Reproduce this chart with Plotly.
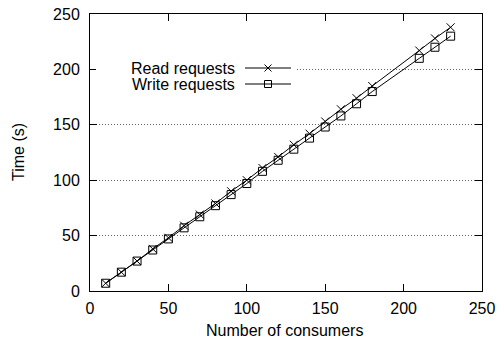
import plotly.graph_objects as go

consumers = [10, 20, 30, 40, 50, 60, 70, 80, 90, 100, 110, 120, 130, 140, 150, 160, 170, 180, 210, 220, 230]
read_times = [7, 17, 27, 38, 48, 59, 69, 79, 90, 100, 111, 121, 132, 142, 153, 164, 174, 185, 217, 228, 238]
write_times = [7, 17, 27, 37, 47, 57, 67, 77, 87, 97, 108, 118, 128, 138, 148, 158, 169, 180, 210, 220, 230]
series_names = ["Read requests", "Write requests"]
x_ticks = [0, 50, 100, 150, 200, 250]
y_ticks = [0, 50, 100, 150, 200, 250]
x_title = "Number of consumers"
y_title = "Time (s)"

FONT = "Liberation Sans, Arial, Helvetica, sans-serif"
FS = 16
OFF = 8  # default page body margin

fig = go.Figure()
fig.add_trace(go.Scatter(x=consumers, y=read_times, mode="lines+markers", name=series_names[0],
                         line=dict(color="black", width=1),
                         marker=dict(symbol="x-thin-open", size=8, line=dict(color="black", width=1), color="black")))
fig.add_trace(go.Scatter(x=consumers, y=write_times, mode="lines+markers", name=series_names[1],
                         line=dict(color="black", width=1),
                         marker=dict(symbol="square-open", size=8, line=dict(color="black", width=1), color="black")))

W, H = 504 - OFF, 341 - OFF
L, R, T, B = 90 - OFF, 22, 14 - OFF, 50
pw, ph = W - L - R, H - T - B

def px(xp):  # page x -> paper
    return (xp - OFF - L) / pw

def py(yp):  # page y -> paper
    return (H - B - (yp - OFF)) / ph

shapes = []
shapes.append(dict(type="rect", xref="paper", yref="paper", x0=px(96), x1=px(296), y0=py(92), y1=py(59),
                   fillcolor="white", line=dict(width=0), layer="above"))
annotations = []
for i, (name, yc) in enumerate(zip(series_names, [68, 84])):
    annotations.append(dict(text=name, xref="paper", yref="paper", x=px(237), y=py(yc),
                            xanchor="right", yanchor="middle", showarrow=False,
                            font=dict(family=FONT, size=FS, color="black")))
    shapes.append(dict(type="line", xref="paper", yref="paper", x0=px(245), x1=px(291), y0=py(yc), y1=py(yc),
                       line=dict(color="black", width=1), layer="above"))
    cx, s = 268, 3.5
    if i == 0:
        shapes.append(dict(type="line", xref="paper", yref="paper", x0=px(cx - s), x1=px(cx + s),
                           y0=py(yc - s), y1=py(yc + s), line=dict(color="black", width=1), layer="above"))
        shapes.append(dict(type="line", xref="paper", yref="paper", x0=px(cx - s), x1=px(cx + s),
                           y0=py(yc + s), y1=py(yc - s), line=dict(color="black", width=1), layer="above"))
    else:
        shapes.append(dict(type="rect", xref="paper", yref="paper", x0=px(cx - s), x1=px(cx + s),
                           y0=py(yc + s), y1=py(yc - s), line=dict(color="black", width=1),
                           fillcolor="rgba(0,0,0,0)", layer="above"))

annotations.append(dict(text=x_title, xref="paper", yref="paper", x=px(284), y=py(330),
                        xanchor="center", yanchor="middle", showarrow=False,
                        font=dict(family=FONT, size=FS, color="black")))
annotations.append(dict(text=y_title, xref="paper", yref="paper", x=px(18), y=py(152), textangle=-90,
                        xanchor="center", yanchor="middle", showarrow=False,
                        font=dict(family=FONT, size=FS, color="black")))

fig.update_layout(
    width=W, height=H,
    margin=dict(l=L, r=R, t=T, b=B, pad=0, autoexpand=False),
    paper_bgcolor="white", plot_bgcolor="white",
    showlegend=False,
    font=dict(family=FONT, size=FS, color="black"),
    shapes=shapes, annotations=annotations,
)
fig.update_xaxes(range=[0, 250], tickvals=x_ticks, ticks="inside", ticklen=7, tickcolor="black",
                 showline=True, linecolor="black", linewidth=1, mirror="ticks", showgrid=False, zeroline=False,
                 automargin=False, ticklabelstandoff=3, ticklabeloverflow="allow", tickfont=dict(size=FS))
fig.update_yaxes(range=[0, 250], tickvals=y_ticks, ticks="inside", ticklen=7, tickcolor="black",
                 showline=True, linecolor="black", linewidth=1, mirror="ticks",
                 showgrid=True, gridcolor="#666666", griddash="1px,2px", gridwidth=1, zeroline=False,
                 automargin=False, ticklabelstandoff=6, ticklabeloverflow="allow", tickfont=dict(size=FS))

fig.write_html("out.html")
